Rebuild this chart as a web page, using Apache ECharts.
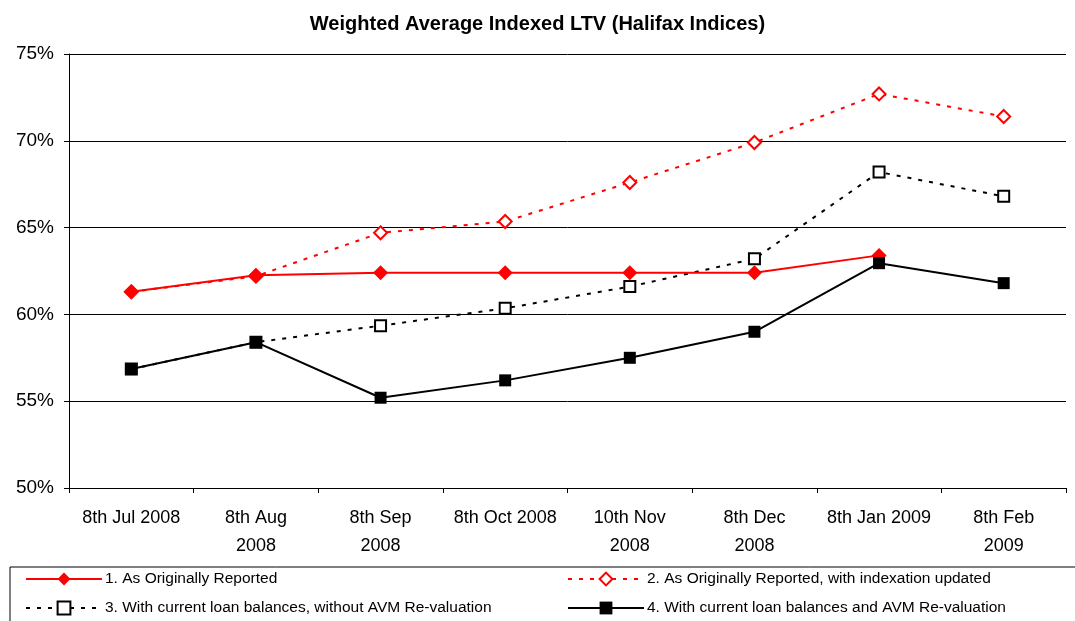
<!DOCTYPE html>
<html>
<head>
<meta charset="utf-8">
<script src="https://cdn.jsdelivr.net/npm/echarts@6/dist/echarts.min.js"></script>
<style>
html,body{margin:0;padding:0;background:#fff;}
#chart{width:1075px;height:621px;}
</style>
</head>
<body>
<div id="chart"></div>
<script>
// dates on the x axis
var categories = ['8th Jul 2008', '8th Aug\n2008', '8th Sep\n2008', '8th Oct 2008',
	'10th Nov\n2008', '8th Dec\n2008', '8th Jan 2009', '8th Feb\n2009'];

var seriesNames = [
	'1. As Originally Reported',
	'2. As Originally Reported, with indexation updated',
	'3. With current loan balances, without AVM Re-valuation',
	'4. With current loan balances and AVM Re-valuation'
];

// LTV in %
var reported = [61.3, 62.25, 62.4, 62.4, 62.4, 62.4, 63.4, null];
var reportedIndexed = [61.3, 62.2, 64.7, 65.35, 67.6, 69.9, 72.7, 71.4];
var balancesNoAvm = [56.85, 58.4, 59.35, 60.35, 61.6, 63.2, 68.2, 66.8];
var balancesAvm = [56.85, 58.4, 55.2, 56.2, 57.5, 59.0, 62.95, 61.8];

var yTicks = {min: 50, max: 75, step: 5};

var chart = echarts.init(document.getElementById('chart'));

var font = 'Liberation Sans, Arial, sans-serif';

function legendItem(name, left, top) {
	return {
		left: left,
		top: top,
		itemWidth: 76,
		itemHeight: 16,
		itemGap: 4,
		data: [name],
		textStyle: {fontFamily: font, fontSize: 15.5, color: '#000', padding: [0, 0, 0, -2]}
	};
}

var option = {
	animation: false,
	backgroundColor: '#fff',
	title: {
		text: 'Weighted Average Indexed LTV (Halifax Indices)',
		left: 'center',
		top: 9,
		textStyle: {fontFamily: font, fontSize: 20, fontWeight: 'bold', color: '#000'}
	},
	grid: {left: 69, right: 9, top: 54, bottom: 133},
	legend: [
		legendItem(seriesNames[0], 20, 566),
		legendItem(seriesNames[1], 562, 566),
		legendItem(seriesNames[2], 20, 595),
		legendItem(seriesNames[3], 562, 595)
	],
	graphic: [{
		type: 'rect',
		shape: {x: 10, y: 567, width: 1080, height: 60},
		style: {fill: 'none', stroke: '#000', lineWidth: 1},
		silent: true
	}],
	xAxis: {
		type: 'category',
		data: categories,
		boundaryGap: true,
		axisLine: {lineStyle: {color: '#000', width: 1}},
		axisTick: {show: true, length: 5, lineStyle: {color: '#000'}},
		axisLabel: {fontFamily: font, fontSize: 18, color: '#000', margin: 16, lineHeight: 28, interval: 0}
	},
	yAxis: {
		type: 'value',
		min: yTicks.min,
		max: yTicks.max,
		interval: yTicks.step,
		axisLine: {show: true, lineStyle: {color: '#000', width: 1}},
		axisTick: {show: true, length: 5, lineStyle: {color: '#000'}},
		axisLabel: {formatter: '{value}%', fontFamily: font, fontSize: 19, color: '#000', margin: 15},
		splitLine: {lineStyle: {color: '#000', width: 1}}
	},
	series: [
		{
			name: seriesNames[0],
			type: 'line',
			data: reported,
			symbol: 'diamond',
			symbolSize: 15,
			itemStyle: {color: '#ff0000'},
			lineStyle: {color: '#ff0000', width: 2},
			z: 4
		},
		{
			name: seriesNames[1],
			type: 'line',
			data: reportedIndexed,
			symbol: 'diamond',
			symbolSize: 13,
			itemStyle: {color: '#fff', borderColor: '#ff0000', borderWidth: 2},
			lineStyle: {color: '#ff0000', width: 2, type: [4, 7]},
			z: 3
		},
		{
			name: seriesNames[2],
			type: 'line',
			data: balancesNoAvm,
			symbol: 'rect',
			symbolSize: 11,
			itemStyle: {color: '#fff', borderColor: '#000', borderWidth: 2},
			lineStyle: {color: '#000', width: 2, type: [4, 7]},
			z: 3
		},
		{
			name: seriesNames[3],
			type: 'line',
			data: balancesAvm,
			symbol: 'rect',
			symbolSize: 12,
			itemStyle: {color: '#000'},
			lineStyle: {color: '#000', width: 2},
			z: 4
		}
	]
};

chart.setOption(option);
</script>
</body>
</html>
